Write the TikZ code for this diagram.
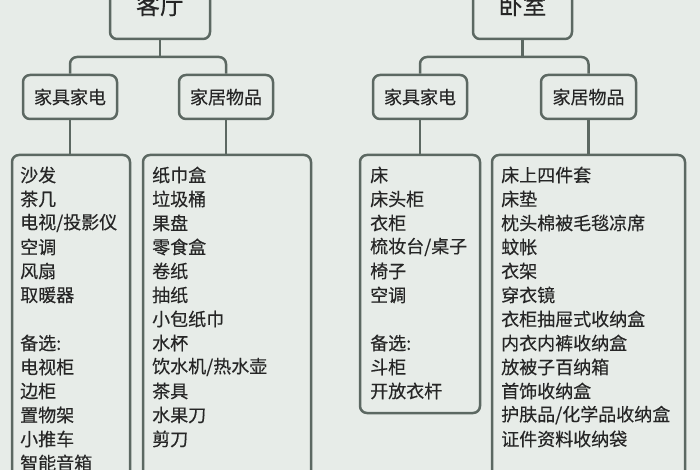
\documentclass[tikz,border=0pt]{standalone}
\usepackage{fontspec}
\setmainfont[FakeBold=0.35]{Noto Sans CJK SC}
\definecolor{bgc}{HTML}{E7ECE8}
\definecolor{linec}{HTML}{5C6862}
\definecolor{textc}{HTML}{262626}
\begin{document}
\begin{tikzpicture}[x=1pt,y=-1pt,
  box/.style={draw=linec, line width=2.5pt, rounded corners=7pt, fill=bgc, inner sep=0pt, text=textc},
  titlebox/.style={box, minimum width=100pt, minimum height=68pt, font=\fontsize{24}{28}\selectfont},
  catbox/.style={box, minimum width=94pt, minimum height=44pt, font=\fontsize{18}{22}\selectfont},
  listbox/.style={box},
  item/.style={anchor=west, inner sep=0pt, text=textc, font=\fontsize{18}{22}\selectfont},
  conn/.style={draw=linec, line width=2.5pt, rounded corners=7pt}]
\clip (0,0) rectangle (700,470);
\fill[bgc] (0,0) rectangle (700,470);

% title nodes
\node[titlebox] (kt) at (160,5) {客厅};
\node[titlebox, minimum width=99pt] (ws) at (522.5,5) {卧室};

% category nodes
\node[catbox] (l1) at (70,97) {家具家电};
\node[catbox] (l2) at (226,97) {家居物品};
\node[catbox] (r1) at (420,97) {家具家电};
\node[catbox, minimum width=95pt] (r2) at (588.5,97) {家居物品};

% list boxes
\node[listbox, minimum width=118pt, minimum height=345pt] (la) at (71,327.5) {};
\node[listbox, minimum width=168pt, minimum height=345pt] (lb) at (227,327.5) {};
\node[listbox, minimum width=120pt, minimum height=258pt] (lc) at (420,284) {};
\node[listbox, minimum width=193pt, minimum height=345pt] (ld) at (588.5,327.5) {};

% bus coordinates
\coordinate (busl) at (0,57);
\coordinate (busr) at (0,57);

% connectors
\draw[conn] (kt.south) -- (kt.south |- busl);
\draw[conn] (l1.north) -- (l1.north |- busl) -- (l2.north |- busl) -- (l2.north);
\draw[conn] (ws.south) -- (ws.south |- busr);
\draw[conn] (r1.north) -- (r1.north |- busr) -- (r2.north |- busr) -- (r2.north);
\draw[conn] (l1.south) -- (l1.south |- la.north);
\draw[conn] (l2.south) -- (l2.south |- lb.north);
\draw[conn] (r1.south) -- (r1.south |- lc.north);
\draw[conn] (r2.south) -- (r2.south |- ld.north);

% list texts
\foreach \t [count=\i from 0] in {沙发,茶几,电视/投影仪,空调,风扇,取暖器}
  \node[item] (a\i) at (20,175+24*\i) {\t};
\foreach \t [count=\i from 0] in {备选:,电视柜,边柜,置物架,小推车,智能音箱}
  \node[item] (aa\i) at (20,343+24*\i) {\t};
\foreach \t [count=\i from 0] in {纸巾盒,垃圾桶,果盘,零食盒,卷纸,抽纸,小包纸巾,水杯,饮水机/热水壶,茶具,水果刀,剪刀}
  \node[item] (b\i) at (152,175+24*\i) {\t};
\foreach \t [count=\i from 0] in {床,床头柜,衣柜,梳妆台/桌子,椅子,空调}
  \node[item] (c\i) at (370,175+24*\i) {\t};
\foreach \t [count=\i from 0] in {备选:,斗柜,开放衣杆}
  \node[item] (cc\i) at (370,343+24*\i) {\t};
\foreach \t [count=\i from 0] in {床上四件套,床垫,枕头棉被毛毯凉席,蚊帐,衣架,穿衣镜,衣柜抽屉式收纳盒,内衣内裤收纳盒,放被子百纳箱,首饰收纳盒,护肤品/化学品收纳盒,证件资料收纳袋}
  \node[item] (d\i) at (501,175+24*\i) {\t};
\end{tikzpicture}
\end{document}
